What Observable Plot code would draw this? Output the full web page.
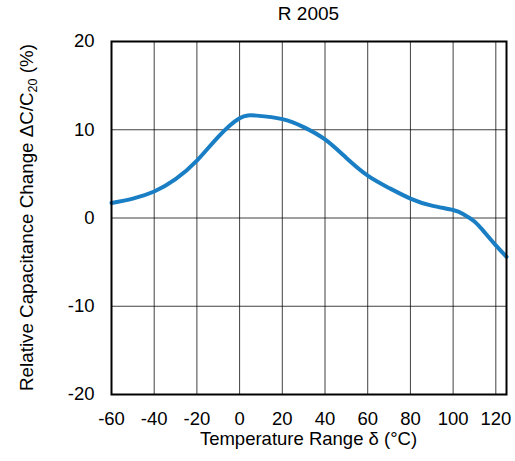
<!DOCTYPE html>
<html>
<head>
<meta charset="utf-8">
<script src="https://cdn.jsdelivr.net/npm/d3@7"></script>
<script src="https://cdn.jsdelivr.net/npm/@observablehq/plot@0.6"></script>
<style>
  html, body { margin: 0; padding: 0; background: #fff; }
  svg { font-family: "Liberation Sans", Arial, sans-serif; }
</style>
</head>
<body>
<div id="chart"></div>
<script>
const title = "R 2005";
const xLabel = "Temperature Range δ (°C)";
const xTicks = [-60, -40, -20, 0, 20, 40, 60, 80, 100, 120];
const yTicks = [-20, -10, 0, 10, 20];
const temperature = [-60, -50, -40, -30, -20, -10, 0, 8, 20, 30, 40, 50, 60, 70, 80, 90, 100, 105, 110, 115, 120, 125];
const capChange   = [1.7, 2.2, 3.0, 4.4, 6.5, 9.2, 11.3, 11.6, 11.2, 10.3, 8.9, 6.8, 4.8, 3.4, 2.2, 1.4, 0.9, 0.4, -0.4, -1.7, -3.1, -4.4];

const data = temperature.map((t, i) => ({t, v: capChange[i]}));

const W = 515, H = 461;
const mL = 111, mR = 9, mT = 41, mB = 67;
const fmt = d => String(d);

const plot = Plot.plot({
  width: W,
  height: H,
  marginLeft: mL,
  marginRight: mR,
  marginTop: mT,
  marginBottom: mB,
  style: {fontSize: "18px", fontFamily: "'Liberation Sans', Arial, sans-serif", color: "#000", background: "#fff"},
  x: {domain: [-60, 125], label: null},
  y: {domain: [-20, 20], label: null},
  marks: [
    Plot.gridX(xTicks, {stroke: "#000", strokeOpacity: 0.75, strokeWidth: 1}),
    Plot.gridY(yTicks, {stroke: "#000", strokeOpacity: 0.75, strokeWidth: 1}),
    Plot.line(data, {x: "t", y: "v", stroke: "#1a7ec4", strokeWidth: 4, curve: "natural"}),
    Plot.frame({stroke: "#000", strokeWidth: 2}),
    Plot.axisX({ticks: xTicks, tickSize: 0, tickPadding: 17, fontSize: 18.5, tickFormat: fmt, label: null}),
    Plot.axisY({ticks: yTicks, tickSize: 0, tickPadding: 17, fontSize: 18.5, tickFormat: fmt, label: null})
  ]
});

const svg = d3.select(plot);
const cx = mL + (W - mL - mR) / 2;
svg.append("text")
  .attr("x", cx).attr("y", 20)
  .attr("text-anchor", "middle")
  .attr("font-size", 19)
  .attr("fill", "#000")
  .text(title);
svg.append("text")
  .attr("x", cx).attr("y", 445)
  .attr("text-anchor", "middle")
  .attr("font-size", 18.5)
  .attr("fill", "#000")
  .text(xLabel);
const yl = svg.append("text")
  .attr("transform", `translate(32.5, ${mT + (H - mT - mB) / 2}) rotate(-90)`)
  .attr("text-anchor", "middle")
  .attr("font-size", 18.8)
  .attr("fill", "#000");
yl.append("tspan").text("Relative Capacitance Change ΔC/C");
yl.append("tspan").attr("font-size", 12.5).attr("dy", 4).text("20");
yl.append("tspan").attr("dy", -4).text(" (%)");

document.getElementById("chart").appendChild(plot);
</script>
</body>
</html>
